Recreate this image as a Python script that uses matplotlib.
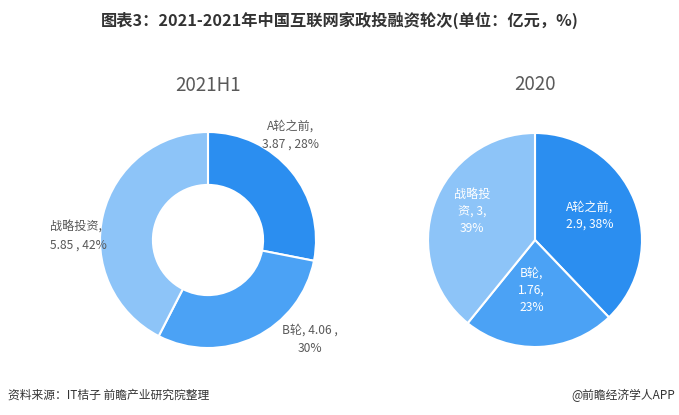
import matplotlib.pyplot as plt

plt.rcParams['font.family'] = ['Noto Sans CJK SC', 'DejaVu Sans']

# data
categories = ["A轮之前", "B轮", "战略投资"]
values_2021h1 = [3.87, 4.06, 5.85]
pct_2021h1 = [28, 30, 42]
values_2020 = [2.9, 1.76, 3]
pct_2020 = [38, 23, 39]
colors = ["#2b8ef0", "#4ba2f5", "#8dc4f8"]

fig = plt.figure(figsize=(6.79, 4.15), dpi=100)
W, H = 679, 415


def add_pie_axes(cx, cy, r):
    # cx, cy in pixels from top-left; r radius in px -> 1 data unit
    size = 3 * r
    ax = fig.add_axes([(cx - size / 2) / W, (H - cy - size / 2) / H, size / W, size / H])
    return ax


def fix_limits(ax):
    # pie() resets the limits, so set them again afterwards
    ax.set_xlim(-1.5, 1.5)
    ax.set_ylim(-1.5, 1.5)
    ax.set_aspect("equal")
    ax.axis("off")


gray = "#595959"

# left donut
ax1 = add_pie_axes(208, 240, 108)
ax1.pie(values_2021h1, colors=colors, startangle=90, counterclock=False,
        radius=1, wedgeprops=dict(width=0.49, edgecolor="white", linewidth=1.5))
fix_limits(ax1)
ax1.text(0.76, 0.97, f"{categories[0]},\n{values_2021h1[0]} , {pct_2021h1[0]}%",
         ha="center", va="center", fontsize=8.7, color=gray, linespacing=1.5)
ax1.text(0.94, -0.92, f"{categories[1]}, {values_2021h1[1]} ,\n{pct_2021h1[1]}%",
         ha="center", va="center", fontsize=8.7, color=gray, linespacing=1.5)
ax1.text(-1.46, 0.04, f"{categories[2]},\n{values_2021h1[2]} , {pct_2021h1[2]}%",
         ha="left", va="center", fontsize=8.7, color=gray, linespacing=1.5)
ax1.text(0, 1.43, "2021H1", ha="center", va="center", fontsize=13.5, color=gray)

# right pie
ax2 = add_pie_axes(535, 240, 107)
ax2.pie(values_2020, colors=colors, startangle=90, counterclock=False,
        radius=1, wedgeprops=dict(edgecolor="white", linewidth=1.5))
fix_limits(ax2)
ax2.text(0.51, 0.23, f"{categories[0]},\n{values_2020[0]}, {pct_2020[0]}%",
         ha="center", va="center", fontsize=8.7, color="white", linespacing=1.4)
ax2.text(-0.03, -0.47, f"{categories[1]},\n{values_2020[1]},\n{pct_2020[1]}%",
         ha="center", va="center", fontsize=8.7, color="white", linespacing=1.4)
ax2.text(-0.59, 0.27, f"战略投\n资, {values_2020[2]:g},\n{pct_2020[2]}%",
         ha="center", va="center", fontsize=8.7, color="white", linespacing=1.4)
ax2.text(0, 1.45, "2020", ha="center", va="center", fontsize=13.5, color=gray)

# title and footer
fig.text(0.5, 1 - 20 / H, "图表3：2021-2021年中国互联网家政投融资轮次(单位：亿元，%)",
         ha="center", va="center", fontsize=11.7, fontweight="bold", color="#333333")
fig.text(8 / W, 1 - 395 / H, "资料来源：IT桔子 前瞻产业研究院整理",
         ha="left", va="center", fontsize=8.5, color="#333333")
fig.text(1 - 4 / W, 1 - 395 / H, "@前瞻经济学人APP",
         ha="right", va="center", fontsize=8.5, color="#333333")

fig.savefig("out.png", dpi=100)
